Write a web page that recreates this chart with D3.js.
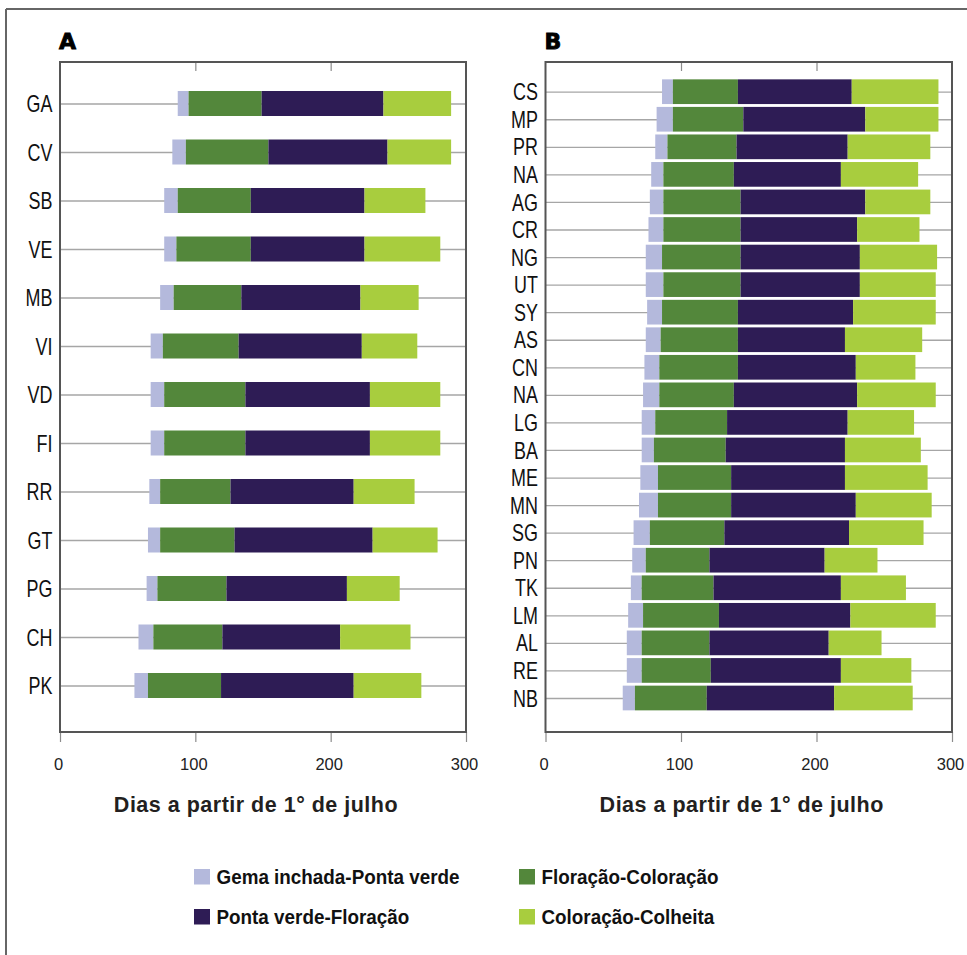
<!DOCTYPE html>
<html>
<head>
<meta charset="utf-8">
<script src="https://cdn.jsdelivr.net/npm/d3@7"></script>
<style>
  html, body { margin: 0; padding: 0; background: #fff; }
  svg { display: block; }
</style>
</head>
<body>
<div id="chart"></div>
<script>
// ---- Data: days counted from 1 July ----
// Panel A
const catsA = ["GA", "CV", "SB", "VE", "MB", "VI", "VD", "FI", "RR", "GT", "PG", "CH", "PK"];
const inicioA = [87, 83, 77, 77, 74, 67, 67, 67, 66, 65, 64, 58, 55];
const gemaA = [8, 10, 10, 9, 10, 9, 10, 10, 8, 9, 8, 11, 10];
const floracaoColoracaoA = [54, 61, 54, 55, 50, 56, 60, 60, 52, 55, 51, 51, 54];
const pontaVerdeFloracaoA = [90, 88, 84, 84, 88, 91, 92, 92, 91, 102, 89, 87, 98];
const coloracaoColheitaA = [50, 47, 45, 56, 43, 41, 52, 52, 45, 48, 39, 52, 50];

// Panel B
const catsB = ["CS", "MP", "PR", "NA", "AG", "CR", "NG", "UT", "SY", "AS", "CN", "NA",
               "LG", "BA", "ME", "MN", "SG", "PN", "TK", "LM", "AL", "RE", "NB"];
const inicioB = [86, 82, 81, 78, 77, 76, 74, 74, 75, 74, 73, 72, 71, 71, 70, 69, 65, 64, 63, 61, 60, 60, 57];
const gemaB = [8, 12, 9, 9, 10, 11, 12, 13, 11, 11, 11, 12, 10, 9, 13, 14, 12, 10, 8, 11, 11, 11, 9];
const floracaoColoracaoB = [48, 52, 51, 52, 57, 57, 58, 57, 56, 57, 58, 55, 53, 53, 54, 54, 55, 47, 53, 56, 50, 51, 53];
const pontaVerdeFloracaoB = [84, 90, 82, 79, 92, 86, 88, 88, 85, 79, 87, 91, 89, 88, 84, 92, 92, 85, 94, 97, 88, 96, 94];
const coloracaoColheitaB = [64, 54, 61, 57, 48, 46, 57, 56, 61, 57, 44, 58, 49, 56, 61, 56, 55, 39, 48, 63, 39, 52, 58];

const xTicks = [0, 100, 200, 300];
const axisTitle = "Dias a partir de 1° de julho";

// Series in stacking order (left to right along each bar)
const seriesKeys = ["gema", "floracaoColoracao", "pontaVerdeFloracao", "coloracaoColheita"];
const seriesNames = {
  gema: "Gema inchada-Ponta verde",
  pontaVerdeFloracao: "Ponta verde-Floração",
  floracaoColoracao: "Floração-Coloração",
  coloracaoColheita: "Coloração-Colheita"
};
const colors = {
  gema: "#b4b9dc",
  floracaoColoracao: "#53873b",
  pontaVerdeFloracao: "#2e1c55",
  coloracaoColheita: "#a8cd3e"
};

// ---- Layout ----
const W = 967, H = 955;
const svg = d3.select("#chart").append("svg")
  .attr("width", W).attr("height", H)
  .style("background", "#fff");

// outer border (top and left edges)
svg.append("line").attr("x1", 6).attr("x2", W).attr("y1", 9).attr("y2", 9)
  .attr("stroke", "#666").attr("stroke-width", 2);
svg.append("line").attr("x1", 6).attr("x2", 6).attr("y1", 9).attr("y2", H)
  .attr("stroke", "#666").attr("stroke-width", 2);

const plotTop = 62, plotBottom = 732;
const narrow = 0.78;   // horizontal squeeze for the condensed row labels

function drawPanel(cfg) {
  const { letter, cats, inicio, gema, floracaoColoracao, pontaVerdeFloracao, coloracaoColheita,
          x0, x1, yFirst, yLast, barH } = cfg;

  const rows = cats.map((c, i) => ({
    i, cat: c,
    inicio: inicio[i],
    gema: gema[i],
    floracaoColoracao: floracaoColoracao[i],
    pontaVerdeFloracao: pontaVerdeFloracao[i],
    coloracaoColheita: coloracaoColheita[i]
  }));

  const x = d3.scaleLinear().domain([0, 300]).range([x0, x1]);
  const y = d3.scalePoint().domain(d3.range(cats.length)).range([yFirst, yLast]);

  const g = svg.append("g");

  // panel letter
  g.append("text")
    .attr("x", x0 - 1).attr("y", 49)
    .attr("font-family", "DejaVu Sans, sans-serif")
    .attr("font-weight", "bold")
    .attr("font-size", 22)
    .attr("fill", "#000")
    .attr("stroke", "#000")
    .attr("stroke-width", 0.9)
    .text(letter);

  // category axis with row gridlines
  const yAxis = d3.axisLeft(y)
    .tickSizeInner(-(x1 - x0))
    .tickSizeOuter(0)
    .tickPadding(7)
    .tickFormat(i => cats[i]);
  const ya = g.append("g").attr("transform", `translate(${x0},0)`).call(yAxis);
  ya.select(".domain").remove();
  ya.selectAll(".tick line").attr("stroke", "#a6a6a6").attr("stroke-width", 1.3);
  ya.selectAll(".tick text")
    .attr("font-family", "Liberation Sans, Arial, sans-serif")
    .attr("font-size", 23)
    .attr("fill", "#111")
    .attr("x", -7.5 / narrow)
    .attr("transform", `scale(${narrow},1)`)
    .attr("dy", "0.35em");

  // stacked bars, first layer (inicio) is the invisible offset
  const stack = d3.stack().keys(["inicio", ...seriesKeys]);
  const layers = stack(rows).filter(l => l.key !== "inicio");

  g.append("g").selectAll("g")
    .data(layers)
    .join("g")
    .attr("fill", d => colors[d.key])
    .selectAll("rect")
    .data(d => d)
    .join("rect")
    .attr("x", d => x(d[0]))
    .attr("width", d => x(d[1]) - x(d[0]))
    .attr("y", d => y(d.data.i) - barH / 2)
    .attr("height", barH);

  // top inner ticks
  const xTop = d3.axisTop(x).tickValues([100, 200]).tickSize(-9).tickFormat("");
  const xt = g.append("g").attr("transform", `translate(0,${plotTop})`).call(xTop);
  xt.select(".domain").remove();
  xt.selectAll(".tick line").attr("stroke", "#8c8c8c").attr("stroke-width", 1.2);

  // bottom axis
  const xBottom = d3.axisBottom(x).tickValues(xTicks).tickSize(10).tickPadding(16);
  const xb = g.append("g").attr("transform", `translate(0,${plotBottom})`).call(xBottom);
  xb.select(".domain").remove();
  xb.selectAll(".tick line").attr("stroke", "#8c8c8c").attr("stroke-width", 1.2);
  xb.selectAll(".tick text")
    .attr("font-family", "Liberation Sans, Arial, sans-serif")
    .attr("font-size", 16.5)
    .attr("fill", "#222")
    .attr("dx", -2);

  // plot frame
  g.append("rect")
    .attr("x", x0).attr("y", plotTop)
    .attr("width", x1 - x0).attr("height", plotBottom - plotTop)
    .attr("fill", "none")
    .attr("stroke", "#555")
    .attr("stroke-width", 2);

  // axis title
  g.append("text")
    .attr("x", (x0 + x1) / 2 - 7).attr("y", 812)
    .attr("text-anchor", "middle")
    .attr("font-family", "Liberation Sans, Arial, sans-serif")
    .attr("font-weight", "bold")
    .attr("font-size", 21.5)
    .attr("letter-spacing", 0.5)
    .attr("fill", "#231f20")
    .text(axisTitle);
}

drawPanel({
  letter: "A", cats: catsA, inicio: inicioA, gema: gemaA,
  floracaoColoracao: floracaoColoracaoA, pontaVerdeFloracao: pontaVerdeFloracaoA,
  coloracaoColheita: coloracaoColheitaA,
  x0: 60, x1: 466, yFirst: 103.5, yLast: 685.5, barH: 25
});

drawPanel({
  letter: "B", cats: catsB, inicio: inicioB, gema: gemaB,
  floracaoColoracao: floracaoColoracaoB, pontaVerdeFloracao: pontaVerdeFloracaoB,
  coloracaoColheita: coloracaoColheitaB,
  x0: 545.5, x1: 952, yFirst: 91.7, yLast: 698, barH: 24.7
});

// ---- Legend ----
const legendItems = [
  { key: "gema", col: 0, row: 0 },
  { key: "floracaoColoracao", col: 1, row: 0 },
  { key: "pontaVerdeFloracao", col: 0, row: 1 },
  { key: "coloracaoColheita", col: 1, row: 1 }
];
const legendX = [194, 519], legendY = [877, 917];
const legendSqueeze = 0.92;
const lg = svg.append("g").selectAll("g")
  .data(legendItems)
  .join("g")
  .attr("transform", d => `translate(${legendX[d.col]},${legendY[d.row]})`);
lg.append("rect")
  .attr("x", 0).attr("y", -8).attr("width", 16).attr("height", 15.5)
  .attr("fill", d => colors[d.key]);
lg.append("text")
  .attr("x", 22.5 / legendSqueeze).attr("y", 0).attr("dy", "0.36em")
  .attr("transform", `scale(${legendSqueeze},1)`)
  .attr("font-family", "Liberation Sans, Arial, sans-serif")
  .attr("font-weight", "bold")
  .attr("font-size", 20.5)
  .attr("fill", "#111")
  .text(d => seriesNames[d.key]);
</script>
</body>
</html>
